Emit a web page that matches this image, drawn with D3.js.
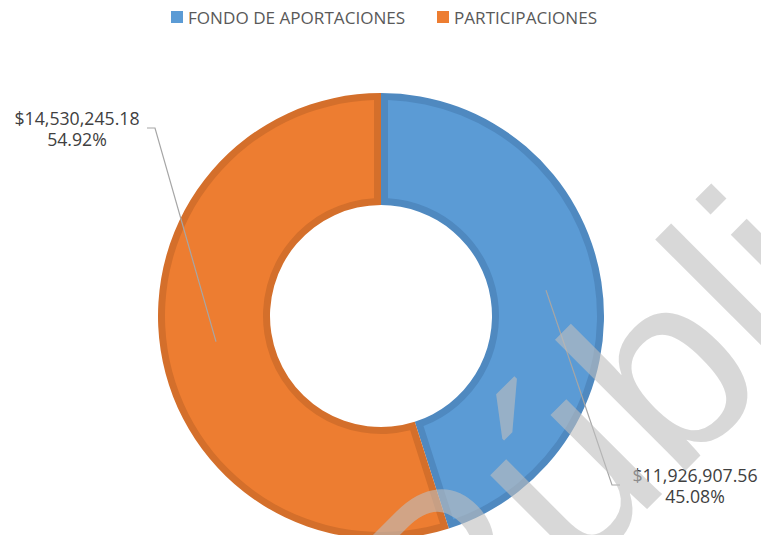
<!DOCTYPE html>
<html>
<head>
<meta charset="utf-8">
<script src="https://cdn.jsdelivr.net/npm/d3@7"></script>
<style>
  body { margin: 0; background: #fff; }
  svg { display: block; }
  text { font-family: "Open Sans", sans-serif; }
</style>
</head>
<body>
<div id="chart"></div>
<script>
// categories and values
var categories = ["FONDO DE APORTACIONES", "PARTICIPACIONES"];
var amounts = [11926907.56, 14530245.18];
var colors = ["#5b9bd5", "#ed7d31"];
var borders = ["#4f89c0", "#d46f2b"];

var width = 761, height = 535;

var svg = d3.select("#chart").append("svg")
    .attr("width", width)
    .attr("height", height);

var cx = 381, cy = 316,
    outerR = 223, innerR = 111, border = 7;

var total = d3.sum(amounts);
var fmtMoney = d3.format("$,.2f"),
    fmtPct = d3.format(".2%");

var pie = d3.pie().sort(null).value(function(d) { return d; });
var arcs = pie(amounts);

var arcOuter = d3.arc().innerRadius(innerR).outerRadius(outerR);
var arcInner = d3.arc().innerRadius(innerR + border).outerRadius(outerR - border)
    .padRadius(outerR).padAngle(2 * border / outerR);
var arcMid = d3.arc().innerRadius((innerR + outerR) / 2).outerRadius((innerR + outerR) / 2);

var g = svg.append("g").attr("transform", "translate(" + cx + "," + cy + ")");

// slice with darker rim, then lighter fill on top
g.selectAll("path.rim").data(arcs).enter().append("path")
    .attr("class", "rim")
    .attr("d", arcOuter)
    .attr("fill", function(d, i) { return borders[i]; });

g.selectAll("path.fill").data(arcs).enter().append("path")
    .attr("class", "fill")
    .attr("d", arcInner)
    .attr("fill", function(d, i) { return colors[i]; });

// data labels with leader lines (label spots as Excel placed them)
var labelPos = [
    {x: 695, y: 482, hook: [620, 485], hookEnd: 612},
    {x: 77, y: 125, hook: [147, 128], hookEnd: 155}
];

arcs.forEach(function(d, i) {
    var c = arcMid.centroid(d);
    var p = labelPos[i];
    svg.append("polyline")
        .attr("points", [[p.hook[0], p.hook[1]], [p.hookEnd, p.hook[1]], [cx + c[0], cy + c[1]]].join(" "))
        .attr("fill", "none")
        .attr("stroke", "#a6a6a6")
        .attr("stroke-width", 1.2);

    var t = svg.append("text")
        .attr("x", p.x)
        .attr("y", p.y)
        .attr("text-anchor", "middle")
        .attr("fill", "#404040")
        .style("font-size", "17.7px");
    t.append("tspan").attr("x", p.x).text(fmtMoney(amounts[i]));
    t.append("tspan").attr("x", p.x).attr("dy", 21).text(fmtPct(amounts[i] / total));
});

// legend
var legendX = [171, 437];
var legend = svg.selectAll("g.legend").data(categories).enter().append("g")
    .attr("class", "legend")
    .attr("transform", function(d, i) { return "translate(" + legendX[i] + ",11)"; });

legend.append("rect")
    .attr("width", 12).attr("height", 12)
    .attr("fill", function(d, i) { return colors[i]; });

legend.append("text")
    .attr("x", 17)
    .attr("y", 12.5)
    .attr("fill", "#595959")
    .style("font-size", "17.1px")
    .text(function(d) { return d; });

// watermark
svg.append("text")
    .attr("transform", "translate(453,703) rotate(-45)")
    .attr("fill", "#bfbfbf")
    .attr("opacity", 0.6)
    .style("font-family", "Liberation Sans, sans-serif")
    .style("font-size", "255px")
    .text("Pública");
</script>
</body>
</html>
